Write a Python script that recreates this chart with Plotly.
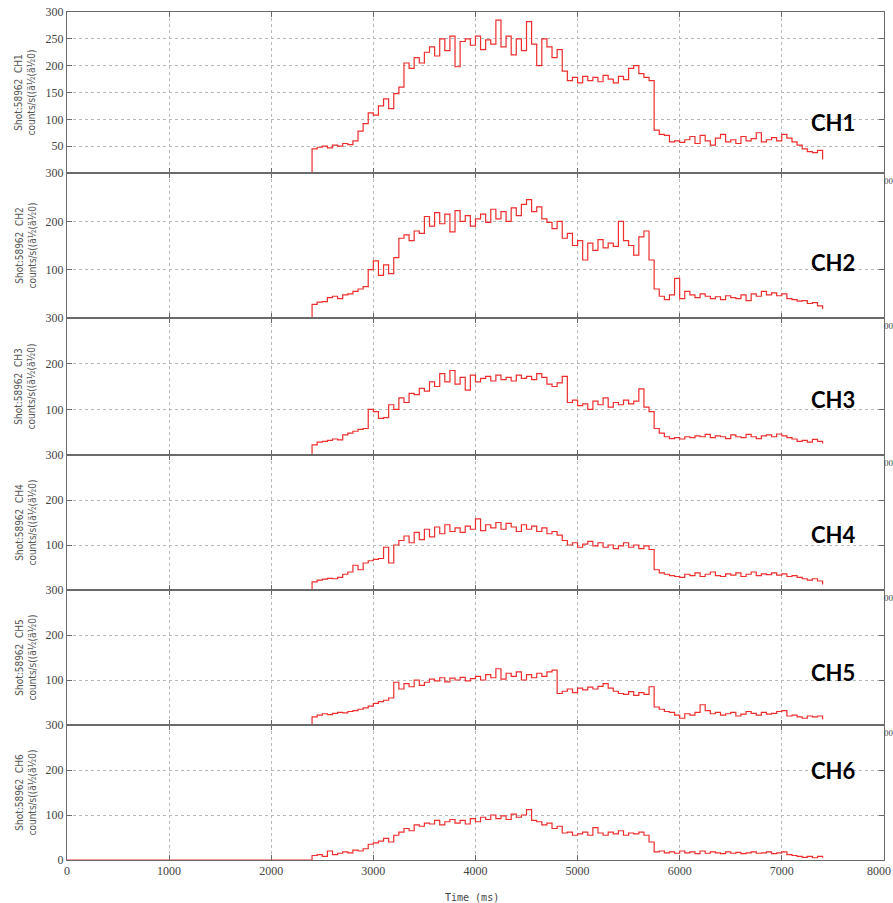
import plotly.graph_objects as go

# Sample times (ms) of the count-rate records, 50 ms bins
TIMES = list(range(2400, 7401, 50))

CH1 = [45, 48, 50, 47, 52, 50, 55, 53, 60, 78,
       92, 112, 108, 125, 138, 120, 148, 160, 205, 195,
       215, 205, 225, 235, 218, 250, 228, 255, 198, 245,
       250, 238, 255, 230, 248, 240, 285, 235, 255, 220,
       250, 228, 282, 240, 200, 250, 235, 215, 230, 190,
       172, 178, 168, 180, 172, 178, 170, 182, 175, 168,
       180, 174, 195, 200, 185, 178, 172, 80, 72, 70,
       58, 60, 57, 62, 68, 55, 70, 60, 52, 65,
       72, 58, 62, 55, 68, 60, 64, 75, 58, 62,
       66, 60, 72, 65, 58, 52, 45, 40, 38, 42,
       25]

CH2 = [28, 33, 34, 42, 45, 40, 48, 50, 55, 60,
       65, 100, 118, 88, 110, 92, 125, 165, 172, 160,
       180, 175, 210, 190, 218, 195, 215, 178, 222, 200,
       212, 190, 205, 215, 198, 225, 205, 220, 200, 228,
       212, 235, 245, 220, 230, 205, 198, 185, 200, 165,
       175, 150, 160, 120, 155, 140, 162, 145, 155, 148,
       200, 160, 150, 130, 168, 180, 120, 60, 45, 38,
       48, 82, 40, 55, 48, 42, 50, 45, 40, 44,
       38, 46, 42, 40, 48, 36, 50, 45, 55, 48,
       52, 46, 50, 40, 38, 35, 36, 30, 32, 25,
       18]

CH3 = [22, 28, 30, 32, 35, 33, 44, 48, 52, 56,
       58, 100, 95, 80, 82, 110, 100, 125, 115, 135,
       132, 146, 140, 160, 150, 178, 160, 185, 155, 170,
       142, 175, 160, 168, 172, 162, 175, 165, 170, 162,
       175, 168, 172, 165, 178, 170, 155, 150, 158, 172,
       115, 120, 108, 112, 100, 118, 110, 125, 105, 115,
       110, 120, 112, 118, 145, 105, 95, 58, 48, 40,
       36, 38, 35, 40, 38, 42, 40, 45, 38, 42,
       40, 36, 44, 40, 38, 45, 40, 36, 42, 44,
       40, 46, 42, 38, 35, 30, 32, 28, 34, 30,
       25]

CH4 = [18, 22, 24, 26, 25, 28, 35, 40, 55, 45,
       60, 65, 68, 70, 95, 60, 100, 110, 120, 105,
       128, 112, 135, 118, 140, 125, 145, 130, 138, 128,
       142, 135, 158, 132, 145, 138, 150, 135, 148, 140,
       130, 145, 135, 142, 130, 138, 125, 130, 122, 110,
       100, 105, 95, 102, 108, 98, 105, 95, 100, 92,
       98, 105, 95, 100, 92, 98, 90, 45, 38, 35,
       32, 30, 28, 35, 32, 38, 30, 35, 40, 32,
       30, 36, 33, 38, 30, 35, 40, 32, 36, 34,
       38, 33, 36, 30, 32, 28, 25, 22, 25, 20,
       12]

CH5 = [18, 22, 25, 23, 26, 28, 27, 30, 32, 35,
       38, 42, 48, 52, 55, 60, 95, 80, 92, 85,
       100, 88, 95, 102, 98, 105, 96, 104, 100, 106,
       98, 103, 108, 100, 112, 105, 125, 102, 115, 108,
       118, 100, 112, 105, 115, 108, 118, 122, 70, 75,
       80, 72, 82, 78, 84, 80, 86, 92, 82, 75,
       70, 68, 74, 66, 72, 68, 85, 40, 35, 30,
       28, 22, 15, 25, 22, 28, 45, 32, 25, 28,
       22, 25, 28, 20, 24, 30, 26, 22, 28, 24,
       26, 30, 32, 20, 22, 18, 15, 20, 18, 20,
       12]

CH6 = [10, 12, 8, 20, 12, 15, 18, 16, 22, 20,
       25, 35, 38, 42, 48, 40, 55, 62, 70, 65,
       78, 75, 82, 80, 88, 78, 85, 90, 82, 88,
       80, 92, 85, 95, 90, 100, 92, 98, 90, 102,
       95, 100, 112, 88, 85, 78, 82, 70, 75, 60,
       62, 55, 58, 62, 55, 72, 60, 55, 62, 58,
       65, 55, 60, 58, 62, 55, 40, 18, 20, 16,
       18, 15, 20, 16, 18, 14, 20, 15, 18, 16,
       14, 18, 15, 17, 14, 16, 18, 15, 16, 18,
       14, 16, 18, 12, 10, 8, 6, 8, 5, 8,
       5]

CHANNELS = ["CH1", "CH2", "CH3", "CH4", "CH5", "CH6"]
SERIES = [CH1, CH2, CH3, CH4, CH5, CH6]

X_TICKS = [0, 1000, 2000, 3000, 4000, 5000, 6000, 7000, 8000]
X_LABELS = ["0", "1000", "2000", "3000", "4000", "5000", "6000", "7000", ""]
X_LAST_LABEL = "8000"   # drawn separately so it stays inside the page edge
Y_TICKS_TOP = [50, 100, 150, 200, 250, 300]
Y_TICKS_MID = [100, 200, 300]
Y_TICKS_BOTTOM = [0, 100, 200, 300]

SHOT = "58962"
UNIT = "counts/s((ä½(ä½0)"

# ---- geometry (pixels in the 893 x 903 page) ----
W, H = 893, 903
L, R, T, B = 67, 884, 12, 860
bounds = [12, 173, 318, 455, 590, 725, 860]   # panel edges, top to bottom


def py(y):
    return (B - y) / (B - T)


def px(x):
    return (x - L) / (R - L)


fig = go.Figure()
tick_font = dict(family="Liberation Serif, DejaVu Serif, serif", size=12, color="#444")
line_col = "#6a6a6a"
grid_col = "#b8b8b8"

layout = dict(
    width=W, height=H,
    margin=dict(l=L, r=W - R, t=T, b=H - B, autoexpand=False),
    paper_bgcolor="white", plot_bgcolor="white",
    showlegend=False,
)

annotations = []
for k, (name, vals) in enumerate(zip(CHANNELS, SERIES)):
    n = k + 1
    xa = "x" if n == 1 else f"x{n}"
    ya = "y" if n == 1 else f"y{n}"
    fig.add_trace(go.Scatter(
        x=[0] + TIMES, y=[0] + vals,
        xaxis=xa, yaxis=ya, mode="lines",
        line=dict(color="rgb(238,45,45)", width=1.2, shape="hv"),
        hoverinfo="skip",
    ))
    top, bot = bounds[k], bounds[k + 1]
    last = n == 6
    layout["xaxis" if n == 1 else f"xaxis{n}"] = dict(
        domain=[0, 1], anchor=ya, range=[0, 8001],
        tickvals=X_TICKS, ticktext=X_LABELS, showticklabels=last, tickfont=tick_font,
        automargin=False,
        ticks="inside", ticklen=5, tickcolor=line_col, mirror="ticks",
        showline=True, linecolor=line_col, linewidth=1,
        showgrid=True, gridcolor=grid_col, griddash="dot", gridwidth=1,
        zeroline=False, fixedrange=True,
    )
    if n == 1:
        yt = Y_TICKS_TOP
    elif last:
        yt = Y_TICKS_BOTTOM
    else:
        yt = Y_TICKS_MID
    layout["yaxis" if n == 1 else f"yaxis{n}"] = dict(
        domain=[py(bot), py(top)], anchor=xa, range=[0, 300],
        tickvals=yt, tickfont=tick_font, automargin=False,
        ticks="inside", ticklen=5, tickcolor=line_col, mirror="ticks",
        showline=True, linecolor=line_col, linewidth=1,
        showgrid=True, gridcolor=grid_col, griddash="dot", gridwidth=1,
        zeroline=False, fixedrange=True,
    )
    # rotated two-line channel caption on the left
    mid = (top + bot) / 2
    annotations.append(dict(
        xref="paper", yref="paper", x=px(25), y=py(mid),
        text=f"Shot:{SHOT}  {name}<br>{UNIT}", showarrow=False,
        textangle=-90, xanchor="center", yanchor="middle",
        font=dict(family="DejaVu Sans Condensed, DejaVu Sans, sans-serif", size=10, color="#555"),
    ))
    # tail of the 8000 tick label of the upper panels, peeking out on the right
    if not last:
        annotations.append(dict(
            xref="paper", yref="paper", x=px(R - 1), y=py(bot + 8),
            text="00", showarrow=False, xanchor="left", yanchor="middle",
            borderpad=0,
            font=dict(family="Liberation Serif, DejaVu Serif, serif", size=9, color="#444"),
        ))

# last time label on the bottom axis
annotations.append(dict(
    xref="paper", yref="paper", x=px(892), y=py(871),
    text=X_LAST_LABEL, showarrow=False, xanchor="right", yanchor="middle",
    borderpad=0, font=tick_font,
))

# bold channel tags inside the panels
ch_y = [122, 262, 400, 534, 672, 770]
for name, yy in zip(CHANNELS, ch_y):
    annotations.append(dict(
        xref="paper", yref="paper", x=px(833), y=py(yy),
        text=f"<b>{name}</b>", showarrow=False,
        xanchor="center", yanchor="middle",
        font=dict(family="Lato, Open Sans, sans-serif", size=22, color="black"),
    ))

annotations.append(dict(
    xref="paper", yref="paper", x=px(472), y=py(897),
    text="Time (ms)", showarrow=False, xanchor="center", yanchor="middle",
    font=dict(family="DejaVu Sans Mono, monospace", size=10, color="#444"),
))

layout["annotations"] = annotations
fig.update_layout(**layout)
fig.write_html("out.html")
